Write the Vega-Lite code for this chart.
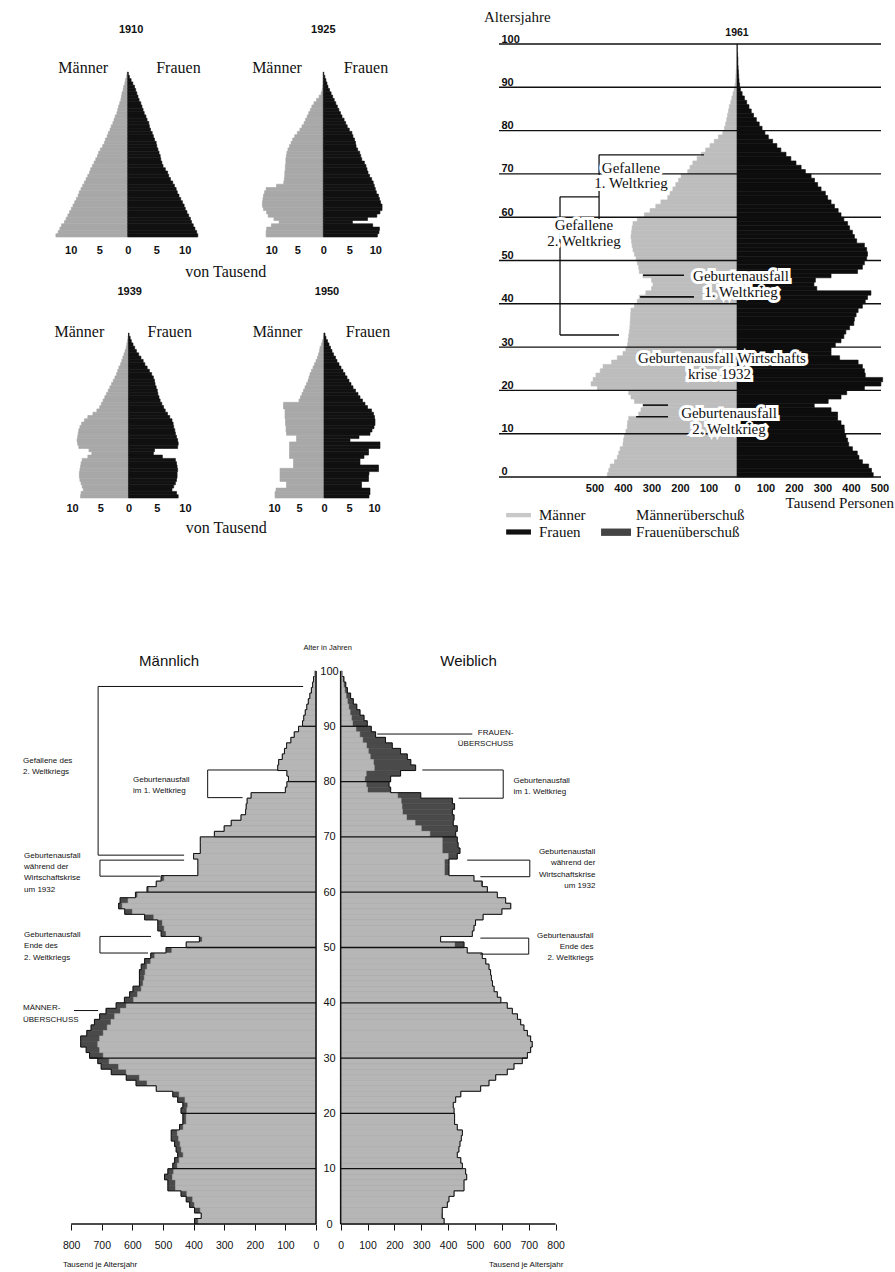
{
"$schema": "https://vega.github.io/schema/vega-lite/v6.json",
"padding": {"left": 22, "top": 10, "right": 2, "bottom": 2},
"background": "white",
"config": {"view": {"stroke": null}, "font": "Liberation Sans"},
"datasets": {
"p1910": [
{"age":0,"top":2,"m":12.6,"f":12.3},{"age":2,"top":4,"m":12.2,"f":12.1},{"age":4,"top":6,"m":11.9,"f":11.8},{"age":6,"top":8,"m":11.6,"f":11.5},{"age":8,"top":10,"m":11.1,"f":11.2},
{"age":10,"top":12,"m":10.8,"f":11.0},{"age":12,"top":14,"m":10.5,"f":10.7},{"age":14,"top":16,"m":10.2,"f":10.4},{"age":16,"top":18,"m":9.9,"f":10.1},{"age":18,"top":20,"m":9.6,"f":9.9},
{"age":20,"top":22,"m":9.3,"f":9.6},{"age":22,"top":24,"m":9.0,"f":9.3},{"age":24,"top":26,"m":8.7,"f":9.0},{"age":26,"top":28,"m":8.5,"f":8.7},{"age":28,"top":30,"m":8.2,"f":8.5},
{"age":30,"top":32,"m":7.9,"f":8.2},{"age":32,"top":34,"m":7.6,"f":7.9},{"age":34,"top":36,"m":7.3,"f":7.5},{"age":36,"top":38,"m":7.0,"f":7.2},{"age":38,"top":40,"m":6.7,"f":7.0},
{"age":40,"top":42,"m":6.5,"f":6.6},{"age":42,"top":44,"m":6.2,"f":6.2},{"age":44,"top":46,"m":5.9,"f":6.0},{"age":46,"top":48,"m":5.6,"f":5.8},{"age":48,"top":50,"m":5.3,"f":5.7},
{"age":50,"top":52,"m":5.1,"f":5.5},{"age":52,"top":54,"m":4.8,"f":5.3},{"age":54,"top":56,"m":4.4,"f":5.1},{"age":56,"top":58,"m":4.1,"f":5.0},{"age":58,"top":60,"m":3.9,"f":4.7},
{"age":60,"top":62,"m":3.6,"f":4.5},{"age":62,"top":64,"m":3.4,"f":4.3},{"age":64,"top":66,"m":3.1,"f":4.0},{"age":66,"top":68,"m":2.9,"f":3.8},{"age":68,"top":70,"m":2.6,"f":3.7},
{"age":70,"top":72,"m":2.4,"f":3.4},{"age":72,"top":74,"m":2.2,"f":3.2},{"age":74,"top":76,"m":1.9,"f":2.9},{"age":76,"top":78,"m":1.75,"f":2.7},{"age":78,"top":80,"m":1.6,"f":2.5},
{"age":80,"top":82,"m":1.4,"f":2.3},{"age":82,"top":84,"m":1.2,"f":2.0},{"age":84,"top":86,"m":1.1,"f":1.8},{"age":86,"top":88,"m":1.0,"f":1.6},{"age":88,"top":90,"m":0.8,"f":1.4},
{"age":90,"top":92,"m":0.7,"f":1.2},{"age":92,"top":94,"m":0.5,"f":0.9},{"age":94,"top":96,"m":0.4,"f":0.6},{"age":96,"top":98,"m":0.2,"f":0.3},{"age":98,"top":100,"m":0.1,"f":0.1}
],
"p1925": [
{"age":0,"top":2,"m":11.0,"f":10.4},{"age":2,"top":4,"m":11.0,"f":10.7},{"age":4,"top":6,"m":10.9,"f":10.8},{"age":6,"top":8,"m":10.0,"f":9.5},{"age":8,"top":10,"m":8.5,"f":5.6},
{"age":10,"top":12,"m":9.5,"f":8.5},{"age":12,"top":14,"m":10.6,"f":10.3},{"age":14,"top":16,"m":10.9,"f":10.9},{"age":16,"top":18,"m":11.5,"f":11.3},{"age":18,"top":20,"m":11.7,"f":11.3},
{"age":20,"top":22,"m":11.7,"f":11.0},{"age":22,"top":24,"m":11.6,"f":10.8},{"age":24,"top":26,"m":11.5,"f":10.6},{"age":26,"top":28,"m":11.3,"f":10.2},{"age":28,"top":30,"m":11.0,"f":10.0},
{"age":30,"top":32,"m":9.0,"f":9.8},{"age":32,"top":34,"m":7.6,"f":9.6},{"age":34,"top":36,"m":7.5,"f":9.3},{"age":36,"top":38,"m":7.4,"f":8.9},{"age":38,"top":40,"m":7.4,"f":8.6},
{"age":40,"top":42,"m":7.3,"f":8.4},{"age":42,"top":44,"m":7.3,"f":8.2},{"age":44,"top":46,"m":7.2,"f":7.9},{"age":46,"top":48,"m":7.2,"f":7.4},{"age":48,"top":50,"m":7.1,"f":7.2},
{"age":50,"top":52,"m":7.0,"f":7.0},{"age":52,"top":54,"m":6.8,"f":6.6},{"age":54,"top":56,"m":6.5,"f":6.3},{"age":56,"top":58,"m":6.2,"f":6.2},{"age":58,"top":60,"m":5.9,"f":6.0},
{"age":60,"top":62,"m":5.5,"f":5.7},{"age":62,"top":64,"m":5.0,"f":5.5},{"age":64,"top":66,"m":4.5,"f":5.0},{"age":66,"top":68,"m":4.1,"f":4.6},{"age":68,"top":70,"m":3.7,"f":4.3},
{"age":70,"top":72,"m":3.4,"f":4.0},{"age":72,"top":74,"m":3.1,"f":3.6},{"age":74,"top":76,"m":2.8,"f":3.3},{"age":76,"top":78,"m":2.5,"f":3.0},{"age":78,"top":80,"m":2.2,"f":2.7},
{"age":80,"top":82,"m":1.8,"f":2.4},{"age":82,"top":84,"m":1.3,"f":2.1},{"age":84,"top":86,"m":0.8,"f":1.8},{"age":86,"top":88,"m":0.4,"f":1.5},{"age":88,"top":90,"m":0.2,"f":1.2},
{"age":90,"top":92,"m":0.1,"f":0.9},{"age":92,"top":94,"m":0,"f":0.7},{"age":94,"top":96,"m":0,"f":0.5},{"age":96,"top":98,"m":0,"f":0.3},{"age":98,"top":100,"m":0,"f":0.1}
],
"p1939": [
{"age":0,"top":2,"m":8.5,"f":8.8},{"age":2,"top":4,"m":8.4,"f":8.5},{"age":4,"top":6,"m":8.0,"f":7.7},{"age":6,"top":8,"m":8.2,"f":8.0},{"age":8,"top":10,"m":8.4,"f":8.3},
{"age":10,"top":12,"m":8.6,"f":8.5},{"age":12,"top":14,"m":8.7,"f":8.6},{"age":14,"top":16,"m":8.7,"f":8.6},{"age":16,"top":18,"m":8.6,"f":8.7},{"age":18,"top":20,"m":8.5,"f":8.6},
{"age":20,"top":22,"m":8.4,"f":8.5},{"age":22,"top":24,"m":8.2,"f":8.3},{"age":24,"top":26,"m":7.2,"f":6.0},{"age":26,"top":28,"m":6.5,"f":4.4},{"age":28,"top":30,"m":7.0,"f":4.6},
{"age":30,"top":32,"m":8.8,"f":8.7},{"age":32,"top":34,"m":9.0,"f":8.8},{"age":34,"top":36,"m":9.1,"f":8.7},{"age":36,"top":38,"m":9.0,"f":8.5},{"age":38,"top":40,"m":8.9,"f":8.3},
{"age":40,"top":42,"m":8.8,"f":8.2},{"age":42,"top":44,"m":8.6,"f":8.0},{"age":44,"top":46,"m":8.3,"f":7.9},{"age":46,"top":48,"m":7.8,"f":7.7},{"age":48,"top":50,"m":7.2,"f":7.3},
{"age":50,"top":52,"m":6.3,"f":6.9},{"age":52,"top":54,"m":5.6,"f":6.5},{"age":54,"top":56,"m":5.1,"f":6.2},{"age":56,"top":58,"m":4.8,"f":5.9},{"age":58,"top":60,"m":4.5,"f":5.6},
{"age":60,"top":62,"m":4.2,"f":5.4},{"age":62,"top":64,"m":3.9,"f":5.2},{"age":64,"top":66,"m":3.6,"f":5.1},{"age":66,"top":68,"m":3.3,"f":4.9},{"age":68,"top":70,"m":3.0,"f":4.7},
{"age":70,"top":72,"m":2.7,"f":4.6},{"age":72,"top":74,"m":2.4,"f":4.4},{"age":74,"top":76,"m":2.1,"f":4.1},{"age":76,"top":78,"m":1.9,"f":3.7},{"age":78,"top":80,"m":1.7,"f":3.3},
{"age":80,"top":82,"m":1.4,"f":2.9},{"age":82,"top":84,"m":1.2,"f":2.6},{"age":84,"top":86,"m":1.0,"f":2.2},{"age":86,"top":88,"m":0.8,"f":1.8},{"age":88,"top":90,"m":0.6,"f":1.4},
{"age":90,"top":92,"m":0.4,"f":1.1},{"age":92,"top":94,"m":0.3,"f":0.8},{"age":94,"top":96,"m":0.2,"f":0.5},{"age":96,"top":98,"m":0.1,"f":0.3},{"age":98,"top":100,"m":0,"f":0.1}
],
"p1950": [
{"age":0,"top":2,"m":9.8,"f":9.0},{"age":2,"top":4,"m":9.8,"f":9.2},{"age":4,"top":6,"m":9.6,"f":9.2},{"age":6,"top":8,"m":7.5,"f":7.5},{"age":8,"top":10,"m":7.5,"f":7.5},
{"age":10,"top":12,"m":8.8,"f":8.9},{"age":12,"top":14,"m":8.8,"f":8.9},{"age":14,"top":16,"m":8.8,"f":9.0},{"age":16,"top":18,"m":8.8,"f":10.9},{"age":18,"top":20,"m":6.1,"f":10.9},
{"age":20,"top":22,"m":6.1,"f":7.2},{"age":22,"top":24,"m":6.1,"f":7.2},{"age":24,"top":26,"m":6.9,"f":8.0},{"age":26,"top":28,"m":6.9,"f":8.9},{"age":28,"top":30,"m":6.9,"f":8.9},
{"age":30,"top":32,"m":6.9,"f":11.2},{"age":32,"top":34,"m":6.9,"f":11.2},{"age":34,"top":36,"m":5.5,"f":5.2},{"age":36,"top":38,"m":5.5,"f":7.0},{"age":38,"top":40,"m":7.5,"f":9.2},
{"age":40,"top":42,"m":7.6,"f":9.6},{"age":42,"top":44,"m":7.6,"f":10.0},{"age":44,"top":46,"m":7.7,"f":10.2},{"age":46,"top":48,"m":7.7,"f":10.2},{"age":48,"top":50,"m":7.8,"f":10.1},
{"age":50,"top":52,"m":7.8,"f":9.9},{"age":52,"top":54,"m":7.8,"f":9.5},{"age":54,"top":56,"m":8.1,"f":8.7},{"age":56,"top":58,"m":8.1,"f":8.2},{"age":58,"top":60,"m":5.0,"f":7.7},
{"age":60,"top":62,"m":4.7,"f":7.2},{"age":62,"top":64,"m":4.4,"f":6.8},{"age":64,"top":66,"m":4.1,"f":6.3},{"age":66,"top":68,"m":3.8,"f":5.8},{"age":68,"top":70,"m":3.5,"f":5.4},
{"age":70,"top":72,"m":3.2,"f":5.0},{"age":72,"top":74,"m":3.0,"f":4.6},{"age":74,"top":76,"m":2.8,"f":4.2},{"age":76,"top":78,"m":2.5,"f":3.8},{"age":78,"top":80,"m":2.2,"f":3.4},
{"age":80,"top":82,"m":1.9,"f":3.0},{"age":82,"top":84,"m":1.6,"f":2.6},{"age":84,"top":86,"m":1.3,"f":2.3},{"age":86,"top":88,"m":1.1,"f":1.9},{"age":88,"top":90,"m":0.9,"f":1.6},
{"age":90,"top":92,"m":0.8,"f":1.3},{"age":92,"top":94,"m":0.5,"f":1.0},{"age":94,"top":96,"m":0.3,"f":0.7},{"age":96,"top":98,"m":0.1,"f":0.4},{"age":98,"top":100,"m":0,"f":0.2}
],
"p1961": [
{"age":0,"top":1,"m":455,"f":478},{"age":1,"top":2,"m":450,"f":472},{"age":2,"top":3,"m":445,"f":462},{"age":3,"top":4,"m":430,"f":440},{"age":4,"top":5,"m":420,"f":428},
{"age":5,"top":6,"m":415,"f":422},{"age":6,"top":7,"m":410,"f":405},{"age":7,"top":8,"m":400,"f":392},{"age":8,"top":9,"m":398,"f":388},{"age":9,"top":10,"m":395,"f":382},
{"age":10,"top":11,"m":390,"f":377},{"age":11,"top":12,"m":385,"f":376},{"age":12,"top":13,"m":384,"f":365},{"age":13,"top":14,"m":380,"f":353},{"age":14,"top":15,"m":345,"f":353},
{"age":15,"top":16,"m":337,"f":330},{"age":16,"top":17,"m":330,"f":271},{"age":17,"top":18,"m":360,"f":320},{"age":18,"top":19,"m":372,"f":365},{"age":19,"top":20,"m":380,"f":385},
{"age":20,"top":21,"m":490,"f":447},{"age":21,"top":22,"m":512,"f":505},{"age":22,"top":23,"m":505,"f":511},{"age":23,"top":24,"m":495,"f":450},{"age":24,"top":25,"m":480,"f":447},
{"age":25,"top":26,"m":470,"f":440},{"age":26,"top":27,"m":440,"f":425},{"age":27,"top":28,"m":420,"f":360},{"age":28,"top":29,"m":400,"f":330},{"age":29,"top":30,"m":390,"f":330},
{"age":30,"top":31,"m":384,"f":345},{"age":31,"top":32,"m":382,"f":365},{"age":32,"top":33,"m":380,"f":375},{"age":33,"top":34,"m":378,"f":382},{"age":34,"top":35,"m":376,"f":395},
{"age":35,"top":36,"m":375,"f":410},{"age":36,"top":37,"m":374,"f":412},{"age":37,"top":38,"m":373,"f":418},{"age":38,"top":39,"m":372,"f":425},{"age":39,"top":40,"m":360,"f":440},
{"age":40,"top":41,"m":350,"f":450},{"age":41,"top":42,"m":343,"f":458},{"age":42,"top":43,"m":320,"f":470},{"age":43,"top":44,"m":300,"f":280},{"age":44,"top":45,"m":295,"f":270},
{"age":45,"top":46,"m":300,"f":275},{"age":46,"top":47,"m":330,"f":330},{"age":47,"top":48,"m":343,"f":423},{"age":48,"top":49,"m":345,"f":440},{"age":49,"top":50,"m":350,"f":447},
{"age":50,"top":51,"m":354,"f":455},{"age":51,"top":52,"m":360,"f":458},{"age":52,"top":53,"m":365,"f":455},{"age":53,"top":54,"m":368,"f":447},{"age":54,"top":55,"m":370,"f":420},
{"age":55,"top":56,"m":372,"f":412},{"age":56,"top":57,"m":370,"f":405},{"age":57,"top":58,"m":368,"f":395},{"age":58,"top":59,"m":365,"f":388},{"age":59,"top":60,"m":350,"f":375},
{"age":60,"top":61,"m":325,"f":365},{"age":61,"top":62,"m":305,"f":355},{"age":62,"top":63,"m":285,"f":342},{"age":63,"top":64,"m":267,"f":330},{"age":64,"top":65,"m":243,"f":318},
{"age":65,"top":66,"m":235,"f":310},{"age":66,"top":67,"m":225,"f":295},{"age":67,"top":68,"m":215,"f":283},{"age":68,"top":69,"m":205,"f":272},{"age":69,"top":70,"m":196,"f":260},
{"age":70,"top":71,"m":173,"f":240},{"age":71,"top":72,"m":165,"f":225},{"age":72,"top":73,"m":155,"f":207},{"age":73,"top":74,"m":140,"f":189},{"age":74,"top":75,"m":125,"f":172},
{"age":75,"top":76,"m":110,"f":154},{"age":76,"top":77,"m":95,"f":140},{"age":77,"top":78,"m":80,"f":125},{"age":78,"top":79,"m":65,"f":110},{"age":79,"top":80,"m":50,"f":98},
{"age":80,"top":81,"m":44,"f":88},{"age":81,"top":82,"m":40,"f":78},{"age":82,"top":83,"m":36,"f":68},{"age":83,"top":84,"m":33,"f":58},{"age":84,"top":85,"m":30,"f":50},
{"age":85,"top":86,"m":27,"f":42},{"age":86,"top":87,"m":22,"f":34},{"age":87,"top":88,"m":18,"f":26},{"age":88,"top":89,"m":14,"f":18},{"age":89,"top":90,"m":10,"f":12},
{"age":90,"top":91,"m":7,"f":9},{"age":91,"top":92,"m":5,"f":7},{"age":92,"top":93,"m":4,"f":6},{"age":93,"top":94,"m":3,"f":5},{"age":94,"top":95,"m":2,"f":4},
{"age":95,"top":96,"m":2,"f":3},{"age":96,"top":97,"m":1,"f":3},{"age":97,"top":98,"m":1,"f":2},{"age":98,"top":99,"m":0,"f":1},{"age":99,"top":100,"m":0,"f":1}
],
"bot": [
{"age":0,"top":1,"m":397,"f":385},{"age":1,"top":2,"m":375,"f":378},{"age":2,"top":3,"m":397,"f":378},{"age":3,"top":4,"m":413,"f":397},{"age":4,"top":5,"m":424,"f":403},
{"age":5,"top":6,"m":441,"f":422},{"age":6,"top":7,"m":484,"f":459},{"age":7,"top":8,"m":484,"f":459},{"age":8,"top":9,"m":495,"f":469},{"age":9,"top":10,"m":484,"f":465},
{"age":10,"top":11,"m":468,"f":453},{"age":11,"top":12,"m":462,"f":447},{"age":12,"top":13,"m":452,"f":434},{"age":13,"top":14,"m":457,"f":440},{"age":14,"top":15,"m":462,"f":444},
{"age":15,"top":16,"m":473,"f":449},{"age":16,"top":17,"m":473,"f":453},{"age":17,"top":18,"m":446,"f":434},{"age":18,"top":19,"m":435,"f":424},{"age":19,"top":20,"m":435,"f":424},
{"age":20,"top":21,"m":441,"f":422},{"age":21,"top":22,"m":435,"f":419},{"age":22,"top":23,"m":452,"f":428},{"age":23,"top":24,"m":468,"f":447},{"age":24,"top":25,"m":522,"f":521},
{"age":25,"top":26,"m":588,"f":552},{"age":26,"top":27,"m":620,"f":577},{"age":27,"top":28,"m":669,"f":620},{"age":28,"top":29,"m":702,"f":645},{"age":29,"top":30,"m":713,"f":676},
{"age":30,"top":31,"m":740,"f":695},{"age":31,"top":32,"m":751,"f":707},{"age":32,"top":33,"m":769,"f":713},{"age":33,"top":34,"m":769,"f":707},{"age":34,"top":35,"m":749,"f":695},
{"age":35,"top":36,"m":735,"f":682},{"age":36,"top":37,"m":724,"f":670},{"age":37,"top":38,"m":707,"f":658},{"age":38,"top":39,"m":686,"f":639},{"age":39,"top":40,"m":653,"f":620},
{"age":40,"top":41,"m":626,"f":596},{"age":41,"top":42,"m":609,"f":583},{"age":42,"top":43,"m":598,"f":571},{"age":43,"top":44,"m":577,"f":565},{"age":44,"top":45,"m":577,"f":561},
{"age":45,"top":46,"m":577,"f":558},{"age":46,"top":47,"m":571,"f":552},{"age":47,"top":48,"m":560,"f":540},{"age":48,"top":49,"m":540,"f":527},{"age":49,"top":50,"m":490,"f":471},
{"age":50,"top":51,"m":424,"f":459},{"age":51,"top":52,"m":381,"f":372},{"age":52,"top":53,"m":506,"f":490},{"age":53,"top":54,"m":517,"f":496},{"age":54,"top":55,"m":517,"f":502},
{"age":55,"top":56,"m":560,"f":530},{"age":56,"top":57,"m":625,"f":600},{"age":57,"top":58,"m":645,"f":633},{"age":58,"top":59,"m":640,"f":614},{"age":59,"top":60,"m":590,"f":583},
{"age":60,"top":61,"m":552,"f":546},{"age":61,"top":62,"m":522,"f":527},{"age":62,"top":63,"m":506,"f":496},{"age":63,"top":64,"m":386,"f":403},{"age":64,"top":65,"m":386,"f":403},
{"age":65,"top":66,"m":386,"f":403},{"age":66,"top":67,"m":400,"f":434},{"age":67,"top":68,"m":378,"f":444},{"age":68,"top":69,"m":378,"f":437},{"age":69,"top":70,"m":378,"f":434},
{"age":70,"top":71,"m":332,"f":428},{"age":71,"top":72,"m":300,"f":434},{"age":72,"top":73,"m":277,"f":419},{"age":73,"top":74,"m":245,"f":422},{"age":74,"top":75,"m":230,"f":416},
{"age":75,"top":76,"m":228,"f":424},{"age":76,"top":77,"m":225,"f":416},{"age":77,"top":78,"m":212,"f":298},{"age":78,"top":79,"m":100,"f":186},{"age":79,"top":80,"m":95,"f":180},
{"age":80,"top":81,"m":90,"f":186},{"age":81,"top":82,"m":95,"f":223},{"age":82,"top":83,"m":125,"f":279},{"age":83,"top":84,"m":122,"f":261},{"age":84,"top":85,"m":110,"f":248},
{"age":85,"top":86,"m":103,"f":223},{"age":86,"top":87,"m":96,"f":192},{"age":87,"top":88,"m":82,"f":167},{"age":88,"top":89,"m":71,"f":130},{"age":89,"top":90,"m":57,"f":114},
{"age":90,"top":91,"m":44,"f":99},{"age":91,"top":92,"m":40,"f":87},{"age":92,"top":93,"m":35,"f":72},{"age":93,"top":94,"m":30,"f":60},{"age":94,"top":95,"m":25,"f":47},
{"age":95,"top":96,"m":20,"f":37},{"age":96,"top":97,"m":15,"f":25},{"age":97,"top":98,"m":11,"f":19},{"age":98,"top":99,"m":8,"f":12},{"age":99,"top":100,"m":5,"f":6}
]
},
"vconcat": [
{"width": 826, "height": 454, "resolve": {"scale": {"x": "independent", "y": "independent"}}, "layer": [
{"resolve": {"scale": {"x": "independent"}}, "layer": [
{"layer": [
{"data": {"name": "p1910"}, "mark": {"type": "rect", "fill": "#a8a8a8", "stroke": "#a8a8a8", "strokeWidth": 0.6}, "encoding": {
"x": {"field": "m", "type": "quantitative", "scale": {"domain": [-132.16, 12.754], "reverse": true, "nice": false, "zero": false}, "axis": {"orient": "bottom", "offset": -261, "values": [0, 5, 10], "title": null, "ticks": false, "domain": false, "grid": false, "labelFont": "Liberation Sans", "labelFontWeight": "bold", "labelFontSize": 11, "labelPadding": 7, "labelFlush": false, "labelOverlap": false, "labelColor": "#111"}},
"x2": {"datum": 0},
"y": {"field": "age", "type": "quantitative", "scale": {"domain": [-158.18, 116.97], "nice": false, "zero": false}, "axis": null},
"y2": {"field": "top"}}},
{"data": {"values": [{}]}, "mark": {"type": "text", "text": "Männer", "font": "Liberation Serif", "fontSize": 16, "color": "#111"}, "encoding": {"x": {"datum": 7.8}, "y": {"datum": 102.4, "axis": null}}}
]},
{"layer": [
{"data": {"name": "p1910"}, "mark": {"type": "rect", "fill": "#111", "stroke": "#111", "strokeWidth": 0.6}, "encoding": {
"x": {"field": "f", "type": "quantitative", "scale": {"domain": [-12.754, 132.16], "nice": false, "zero": false}, "axis": {"orient": "bottom", "offset": -261, "values": [5, 10], "title": null, "ticks": false, "domain": false, "grid": false, "labelFont": "Liberation Sans", "labelFontWeight": "bold", "labelFontSize": 11, "labelPadding": 7, "labelFlush": false, "labelOverlap": false, "labelColor": "#111"}},
"x2": {"datum": 0},
"y": {"field": "age", "type": "quantitative", "axis": null},
"y2": {"field": "top"}}},
{"data": {"values": [{}]}, "mark": {"type": "text", "text": "Frauen", "font": "Liberation Serif", "fontSize": 16, "color": "#111"}, "encoding": {"x": {"datum": 8.9}, "y": {"datum": 102.4, "axis": null}}},
{"data": {"values": [{}]}, "mark": {"type": "text", "text": "1910", "font": "Liberation Sans", "fontWeight": "bold", "fontSize": 11, "color": "#111"}, "encoding": {"x": {"datum": 0.6}, "y": {"datum": 125.5, "axis": null}}},
{"data": {"values": [{}]}, "mark": {"type": "text", "text": "von Tausend", "font": "Liberation Serif", "fontSize": 16, "color": "#111"}, "encoding": {"x": {"datum": 17.2}, "y": {"datum": -21.2, "axis": null}}}
]}
]},
{"resolve": {"scale": {"x": "independent"}}, "layer": [
{"layer": [
{"data": {"name": "p1925"}, "mark": {"type": "rect", "fill": "#a8a8a8", "stroke": "#a8a8a8", "strokeWidth": 0.6}, "encoding": {
"x": {"field": "m", "type": "quantitative", "scale": {"domain": [-107.25, 51.596], "reverse": true, "nice": false, "zero": false}, "axis": {"orient": "bottom", "offset": -261, "values": [0, 5, 10], "title": null, "ticks": false, "domain": false, "grid": false, "labelFont": "Liberation Sans", "labelFontWeight": "bold", "labelFontSize": 11, "labelPadding": 7, "labelFlush": false, "labelOverlap": false, "labelColor": "#111"}},
"x2": {"datum": 0},
"y": {"field": "age", "type": "quantitative", "scale": {"domain": [-158.18, 116.97], "nice": false, "zero": false}, "axis": null},
"y2": {"field": "top"}}},
{"data": {"values": [{}]}, "mark": {"type": "text", "text": "Männer", "font": "Liberation Serif", "fontSize": 16, "color": "#111"}, "encoding": {"x": {"datum": 8.9}, "y": {"datum": 102.4, "axis": null}}}
]},
{"layer": [
{"data": {"name": "p1925"}, "mark": {"type": "rect", "fill": "#111", "stroke": "#111", "strokeWidth": 0.6}, "encoding": {
"x": {"field": "f", "type": "quantitative", "scale": {"domain": [-51.596, 107.25], "nice": false, "zero": false}, "axis": {"orient": "bottom", "offset": -261, "values": [5, 10], "title": null, "ticks": false, "domain": false, "grid": false, "labelFont": "Liberation Sans", "labelFontWeight": "bold", "labelFontSize": 11, "labelPadding": 7, "labelFlush": false, "labelOverlap": false, "labelColor": "#111"}},
"x2": {"datum": 0},
"y": {"field": "age", "type": "quantitative", "axis": null},
"y2": {"field": "top"}}},
{"data": {"values": [{}]}, "mark": {"type": "text", "text": "Frauen", "font": "Liberation Serif", "fontSize": 16, "color": "#111"}, "encoding": {"x": {"datum": 8.2}, "y": {"datum": 102.4, "axis": null}}},
{"data": {"values": [{}]}, "mark": {"type": "text", "text": "1925", "font": "Liberation Sans", "fontWeight": "bold", "fontSize": 11, "color": "#111"}, "encoding": {"x": {"datum": 0}, "y": {"datum": 125.5, "axis": null}}}
]}
]},
{"resolve": {"scale": {"x": "independent"}}, "layer": [
{"layer": [
{"data": {"name": "p1939"}, "mark": {"type": "rect", "fill": "#a8a8a8", "stroke": "#a8a8a8", "strokeWidth": 0.6}, "encoding": {
"x": {"field": "m", "type": "quantitative", "scale": {"domain": [-133.19, 13.009], "reverse": true, "nice": false, "zero": false}, "axis": {"orient": "bottom", "values": [0, 5, 10], "title": null, "ticks": false, "domain": false, "grid": false, "labelFont": "Liberation Sans", "labelFontWeight": "bold", "labelFontSize": 11, "labelPadding": 4, "labelFlush": false, "labelOverlap": false, "labelColor": "#111"}},
"x2": {"datum": 0},
"y": {"field": "age", "type": "quantitative", "scale": {"domain": [0, 275.15], "nice": false, "zero": false}, "axis": null},
"y2": {"field": "top"}}},
{"data": {"values": [{}]}, "mark": {"type": "text", "text": "Männer", "font": "Liberation Serif", "fontSize": 16, "color": "#111"}, "encoding": {"x": {"datum": 8.7}, "y": {"datum": 100.8, "axis": null}}}
]},
{"layer": [
{"data": {"name": "p1939"}, "mark": {"type": "rect", "fill": "#111", "stroke": "#111", "strokeWidth": 0.6}, "encoding": {
"x": {"field": "f", "type": "quantitative", "scale": {"domain": [-13.009, 133.19], "nice": false, "zero": false}, "axis": {"orient": "bottom", "values": [5, 10], "title": null, "ticks": false, "domain": false, "grid": false, "labelFont": "Liberation Sans", "labelFontWeight": "bold", "labelFontSize": 11, "labelPadding": 4, "labelFlush": false, "labelOverlap": false, "labelColor": "#111"}},
"x2": {"datum": 0},
"y": {"field": "age", "type": "quantitative", "axis": null},
"y2": {"field": "top"}}},
{"data": {"values": [{}]}, "mark": {"type": "text", "text": "Frauen", "font": "Liberation Serif", "fontSize": 16, "color": "#111"}, "encoding": {"x": {"datum": 7.3}, "y": {"datum": 100.8, "axis": null}}},
{"data": {"values": [{}]}, "mark": {"type": "text", "text": "1939", "font": "Liberation Sans", "fontWeight": "bold", "fontSize": 11, "color": "#111"}, "encoding": {"x": {"datum": 0.2}, "y": {"datum": 124.7, "axis": null}}},
{"data": {"values": [{}]}, "mark": {"type": "text", "text": "von Tausend", "font": "Liberation Serif", "fontSize": 16, "color": "#111"}, "encoding": {"x": {"datum": 17.3}, "y": {"datum": -18.2, "axis": null}}}
]}
]},
{"resolve": {"scale": {"x": "independent"}}, "layer": [
{"layer": [
{"data": {"name": "p1950"}, "mark": {"type": "rect", "fill": "#a8a8a8", "stroke": "#a8a8a8", "strokeWidth": 0.6}, "encoding": {
"x": {"field": "m", "type": "quantitative", "scale": {"domain": [-111.4, 53.8], "reverse": true, "nice": false, "zero": false}, "axis": {"orient": "bottom", "values": [0, 5, 10], "title": null, "ticks": false, "domain": false, "grid": false, "labelFont": "Liberation Sans", "labelFontWeight": "bold", "labelFontSize": 11, "labelPadding": 4, "labelFlush": false, "labelOverlap": false, "labelColor": "#111"}},
"x2": {"datum": 0},
"y": {"field": "age", "type": "quantitative", "scale": {"domain": [0, 275.15], "nice": false, "zero": false}, "axis": null},
"y2": {"field": "top"}}},
{"data": {"values": [{}]}, "mark": {"type": "text", "text": "Männer", "font": "Liberation Serif", "fontSize": 16, "color": "#111"}, "encoding": {"x": {"datum": 9.3}, "y": {"datum": 100.8, "axis": null}}}
]},
{"layer": [
{"data": {"name": "p1950"}, "mark": {"type": "rect", "fill": "#111", "stroke": "#111", "strokeWidth": 0.6}, "encoding": {
"x": {"field": "f", "type": "quantitative", "scale": {"domain": [-53.8, 111.4], "nice": false, "zero": false}, "axis": {"orient": "bottom", "values": [5, 10], "title": null, "ticks": false, "domain": false, "grid": false, "labelFont": "Liberation Sans", "labelFontWeight": "bold", "labelFontSize": 11, "labelPadding": 4, "labelFlush": false, "labelOverlap": false, "labelColor": "#111"}},
"x2": {"datum": 0},
"y": {"field": "age", "type": "quantitative", "axis": null},
"y2": {"field": "top"}}},
{"data": {"values": [{}]}, "mark": {"type": "text", "text": "Frauen", "font": "Liberation Serif", "fontSize": 16, "color": "#111"}, "encoding": {"x": {"datum": 8.8}, "y": {"datum": 100.8, "axis": null}}},
{"data": {"values": [{}]}, "mark": {"type": "text", "text": "1950", "font": "Liberation Sans", "fontWeight": "bold", "fontSize": 11, "color": "#111"}, "encoding": {"x": {"datum": 0.6}, "y": {"datum": 124.7, "axis": null}}}
]}
]},
{"resolve": {"scale": {"x": "independent"}}, "layer": [
{"layer": [
{"data": {"name": "p1961"}, "mark": {"type": "rect", "fill": "#bdbdbd", "stroke": "#bdbdbd", "strokeWidth": 0.6}, "encoding": {
"x": {"field": "m", "type": "quantitative", "scale": {"domain": [-505.26, 2392.98], "reverse": true, "nice": false, "zero": false}, "axis": {"orient": "bottom", "offset": -21, "values": [0, 100, 200, 300, 400, 500], "title": null, "ticks": false, "domain": false, "grid": false, "labelFont": "Liberation Sans", "labelFontWeight": "bold", "labelFontSize": 11, "labelPadding": 5, "labelFlush": false, "labelOverlap": false, "labelColor": "#111"}},
"x2": {"datum": 0},
"y": {"field": "age", "type": "quantitative", "scale": {"domain": [-4.85, 100], "nice": false, "zero": false}, "axis": {"orient": "left", "offset": -444, "values": [0, 10, 20, 30, 40, 50, 60, 70, 80, 90, 100], "grid": false, "zindex": 1, "domain": false, "ticks": false, "tickSize": 0, "labelAlign": "left", "labelBaseline": "bottom", "labelPadding": -2, "labelFont": "Liberation Sans", "labelFontWeight": "bold", "labelFontSize": 11, "labelColor": "#111", "labelFlush": false, "labelOverlap": false, "title": null}},
"y2": {"field": "top"}}}
]},
{"layer": [
{"data": {"name": "p1961"}, "mark": {"type": "rect", "fill": "#0d0d0d", "stroke": "#0d0d0d", "strokeWidth": 0.6}, "encoding": {
"x": {"field": "f", "type": "quantitative", "scale": {"domain": [-2392.98, 505.26], "nice": false, "zero": false}, "axis": {"orient": "bottom", "offset": -21, "values": [100, 200, 300, 400, 500], "title": null, "ticks": false, "domain": false, "grid": false, "labelFont": "Liberation Sans", "labelFontWeight": "bold", "labelFontSize": 11, "labelPadding": 5, "labelFlush": false, "labelOverlap": false, "labelColor": "#111"}},
"x2": {"datum": 0},
"y": {"field": "age", "type": "quantitative"},
"y2": {"field": "top"}}},
{"data": {"name": "p1961"}, "transform": [{"filter": "datum.age % 10 == 0"}], "mark": {"type": "rule", "color": "#111", "strokeWidth": 1.4}, "encoding": {"x": {"datum": -835.1}, "x2": {"datum": 505.26}, "y": {"field": "age", "type": "quantitative"}}},
{"data": {"values": [{}]}, "mark": {"type": "rule", "color": "#111", "strokeWidth": 1.4}, "encoding": {"x": {"datum": -835.1}, "x2": {"datum": 505.26}, "y": {"datum": 100}}},
{"data": {"values": [{}]}, "mark": {"type": "rule", "color": "#111", "strokeWidth": 1.3}, "encoding": {"x": {"datum": -484}, "x2": {"datum": -116}, "y": {"datum": 74.4}}},
{"data": {"values": [{}]}, "mark": {"type": "rule", "color": "#111", "strokeWidth": 1.3}, "encoding": {"x": {"datum": -484}, "y": {"datum": 74.4}, "y2": {"datum": 59.6}}},
{"data": {"values": [{}]}, "mark": {"type": "rule", "color": "#111", "strokeWidth": 1.3}, "encoding": {"x": {"datum": -621}, "x2": {"datum": -484}, "y": {"datum": 64.7}}},
{"data": {"values": [{}]}, "mark": {"type": "rule", "color": "#111", "strokeWidth": 1.3}, "encoding": {"x": {"datum": -621}, "y": {"datum": 64.7}, "y2": {"datum": 32.8}}},
{"data": {"values": [{}]}, "mark": {"type": "rule", "color": "#111", "strokeWidth": 1.3}, "encoding": {"x": {"datum": -621}, "x2": {"datum": -414}, "y": {"datum": 32.8}}},
{"data": {"values": [{}]}, "mark": {"type": "rule", "color": "#111", "strokeWidth": 1.6}, "encoding": {"x": {"datum": -330}, "x2": {"datum": -186}, "y": {"datum": 46.6}}},
{"data": {"values": [{}]}, "mark": {"type": "rule", "color": "#111", "strokeWidth": 1.6}, "encoding": {"x": {"datum": -340}, "x2": {"datum": -151}, "y": {"datum": 41.6}}},
{"data": {"values": [{}]}, "mark": {"type": "rule", "color": "#111", "strokeWidth": 1.6}, "encoding": {"x": {"datum": -330}, "x2": {"datum": -242}, "y": {"datum": 16.6}}},
{"data": {"values": [{}]}, "mark": {"type": "rule", "color": "#111", "strokeWidth": 1.6}, "encoding": {"x": {"datum": -354}, "x2": {"datum": -242}, "y": {"datum": 13.9}}},
{"data": {"values": [{}]}, "mark": {"type": "text", "text": ["Gefallene", "1. Weltkrieg"], "font": "Liberation Serif", "fontSize": 15, "baseline": "top", "lineHeight": 15, "fill": "white", "stroke": "white", "strokeWidth": 6}, "encoding": {"x": {"datum": -372}, "y": {"datum": 73.0}}},
{"data": {"values": [{}]}, "mark": {"type": "text", "text": ["Gefallene", "1. Weltkrieg"], "font": "Liberation Serif", "fontSize": 15, "baseline": "top", "lineHeight": 15, "color": "#111"}, "encoding": {"x": {"datum": -372}, "y": {"datum": 73.0}}},
{"data": {"values": [{}]}, "mark": {"type": "text", "text": ["Gefallene", "2. Weltkrieg"], "font": "Liberation Serif", "fontSize": 15, "baseline": "top", "lineHeight": 16, "fill": "white", "stroke": "white", "strokeWidth": 6}, "encoding": {"x": {"datum": -537}, "y": {"datum": 59.8}}},
{"data": {"values": [{}]}, "mark": {"type": "text", "text": ["Gefallene", "2. Weltkrieg"], "font": "Liberation Serif", "fontSize": 15, "baseline": "top", "lineHeight": 16, "color": "#111"}, "encoding": {"x": {"datum": -537}, "y": {"datum": 59.8}}},
{"data": {"values": [{}]}, "mark": {"type": "text", "text": ["Geburtenausfall", "1. Weltkrieg"], "font": "Liberation Serif", "fontSize": 15, "baseline": "top", "lineHeight": 16, "fill": "white", "stroke": "white", "strokeWidth": 6}, "encoding": {"x": {"datum": 14}, "y": {"datum": 48.0}}},
{"data": {"values": [{}]}, "mark": {"type": "text", "text": ["Geburtenausfall", "1. Weltkrieg"], "font": "Liberation Serif", "fontSize": 15, "baseline": "top", "lineHeight": 16, "color": "#111"}, "encoding": {"x": {"datum": 14}, "y": {"datum": 48.0}}},
{"data": {"values": [{}]}, "mark": {"type": "text", "text": "Geburtenausfall Wirtschafts", "font": "Liberation Serif", "fontSize": 15, "align": "left", "fill": "white", "stroke": "white", "strokeWidth": 6}, "encoding": {"x": {"datum": -347}, "y": {"datum": 27.5}}},
{"data": {"values": [{}]}, "mark": {"type": "text", "text": "Geburtenausfall Wirtschafts", "font": "Liberation Serif", "fontSize": 15, "align": "left", "color": "#111"}, "encoding": {"x": {"datum": -347}, "y": {"datum": 27.5}}},
{"data": {"values": [{}]}, "mark": {"type": "text", "text": "krise 1932", "font": "Liberation Serif", "fontSize": 15, "align": "left", "fill": "white", "stroke": "white", "strokeWidth": 6}, "encoding": {"x": {"datum": -172}, "y": {"datum": 23.8}}},
{"data": {"values": [{}]}, "mark": {"type": "text", "text": "krise 1932", "font": "Liberation Serif", "fontSize": 15, "align": "left", "color": "#111"}, "encoding": {"x": {"datum": -172}, "y": {"datum": 23.8}}},
{"data": {"values": [{}]}, "mark": {"type": "text", "text": ["Geburtenausfall", "2. Weltkrieg"], "font": "Liberation Serif", "fontSize": 15, "baseline": "top", "lineHeight": 16, "fill": "white", "stroke": "white", "strokeWidth": 6}, "encoding": {"x": {"datum": -28}, "y": {"datum": 16.4}}},
{"data": {"values": [{}]}, "mark": {"type": "text", "text": ["Geburtenausfall", "2. Weltkrieg"], "font": "Liberation Serif", "fontSize": 15, "baseline": "top", "lineHeight": 16, "color": "#111"}, "encoding": {"x": {"datum": -28}, "y": {"datum": 16.4}}},
{"data": {"values": [{}]}, "mark": {"type": "text", "text": "Altersjahre", "font": "Liberation Serif", "fontSize": 15, "align": "left", "color": "#111"}, "encoding": {"x": {"datum": -888}, "y": {"datum": 106.2}}},
{"data": {"values": [{}]}, "mark": {"type": "text", "text": "1961", "font": "Liberation Sans", "fontWeight": "bold", "fontSize": 10.5, "color": "#111"}, "encoding": {"x": {"datum": 0}, "y": {"datum": 102.5}}},
{"data": {"values": [{}]}, "mark": {"type": "text", "text": "Tausend Personen", "font": "Liberation Serif", "fontSize": 15, "align": "right", "color": "#111"}, "encoding": {"x": {"datum": 551}, "y": {"datum": -6.0}}},
{"data": {"values": [{}]}, "mark": {"type": "rect", "fill": "#c8c8c8"}, "encoding": {"x": {"datum": -810}, "x2": {"datum": -723}, "y": {"datum": -8.3}, "y2": {"datum": -9.3}}},
{"data": {"values": [{}]}, "mark": {"type": "rect", "fill": "#111"}, "encoding": {"x": {"datum": -810}, "x2": {"datum": -723}, "y": {"datum": -12.1}, "y2": {"datum": -13.3}}},
{"data": {"values": [{}]}, "mark": {"type": "rect", "fill": "#444"}, "encoding": {"x": {"datum": -477}, "x2": {"datum": -372}, "y": {"datum": -11.9}, "y2": {"datum": -13.6}}},
{"data": {"values": [{}]}, "mark": {"type": "text", "text": "Männer", "font": "Liberation Serif", "fontSize": 15, "align": "left", "color": "#111"}, "encoding": {"x": {"datum": -695}, "y": {"datum": -8.8}}},
{"data": {"values": [{}]}, "mark": {"type": "text", "text": "Frauen", "font": "Liberation Serif", "fontSize": 15, "align": "left", "color": "#111"}, "encoding": {"x": {"datum": -695}, "y": {"datum": -12.7}}},
{"data": {"values": [{}]}, "mark": {"type": "text", "text": "Männerüberschuß", "font": "Liberation Serif", "fontSize": 15, "align": "left", "color": "#111"}, "encoding": {"x": {"datum": -354}, "y": {"datum": -8.8}}},
{"data": {"values": [{}]}, "mark": {"type": "text", "text": "Frauenüberschuß", "font": "Liberation Serif", "fontSize": 15, "align": "left", "color": "#111"}, "encoding": {"x": {"datum": -354}, "y": {"datum": -12.7}}}
]}
]}
]},
{"width": 501, "height": 553, "resolve": {"scale": {"x": "independent"}}, "layer": [
{"layer": [
{"data": {"name": "bot"}, "mark": {"type": "rect", "fill": "#4a4a4a", "stroke": "#4a4a4a", "strokeWidth": 0.6}, "encoding": {
"x": {"field": "m", "type": "quantitative", "scale": {"domain": [-784.3, 852.9], "reverse": true, "nice": false, "zero": false}, "axis": {"orient": "bottom", "values": [0, 100, 200, 300, 400, 500, 600, 700, 800], "title": null, "domain": false, "ticks": true, "tickSize": 6, "tickColor": "#111", "grid": false, "labelFont": "Liberation Sans", "labelFontSize": 10.5, "labelPadding": 10, "labelFlush": false, "labelOverlap": false, "labelColor": "#111"}},
"x2": {"datum": 0},
"y": {"field": "age", "type": "quantitative", "scale": {"domain": [0, 100], "nice": false}, "axis": {"orient": "left", "values": [0, 10, 20, 30, 40, 50, 60, 70, 80, 90, 100], "domain": false, "ticks": false, "tickSize": 0, "labelAlign": "center", "labelPadding": -274, "labelFont": "Liberation Sans", "labelFontSize": 11, "labelColor": "#111", "labelFlush": false, "labelOverlap": false, "grid": false, "title": null}},
"y2": {"field": "top"}}},
{"data": {"name": "bot"}, "transform": [{"fold": ["m", "f"], "as": ["sex", "v"]}, {"aggregate": [{"op": "min", "field": "v", "as": "common"}], "groupby": ["age", "top"]}], "mark": {"type": "rect", "fill": "#b6b6b6", "stroke": "#b6b6b6", "strokeWidth": 0.6}, "encoding": {
"x": {"field": "common", "type": "quantitative"}, "x2": {"datum": 0},
"y": {"field": "age", "type": "quantitative"}, "y2": {"field": "top"}}},
{"data": {"name": "bot"}, "mark": {"type": "line", "interpolate": "step-before", "color": "#111", "strokeWidth": 1}, "encoding": {
"x": {"field": "m", "type": "quantitative"}, "y": {"field": "age", "type": "quantitative"}, "order": {"field": "age", "type": "quantitative"}}},
{"data": {"name": "bot"}, "transform": [{"filter": "datum.age % 10 == 0 && datum.age > 0"}], "mark": {"type": "rule", "color": "#111", "strokeWidth": 1.3}, "encoding": {
"x": {"field": "m", "type": "quantitative"}, "x2": {"datum": 0}, "y": {"field": "age", "type": "quantitative"}}},
{"data": {"values": [{}]}, "mark": {"type": "rule", "color": "#111", "strokeWidth": 1.3}, "encoding": {"x": {"datum": 0}, "x2": {"datum": 800}, "y": {"datum": 0}}},
{"data": {"values": [{}]}, "mark": {"type": "rule", "color": "#111", "strokeWidth": 1.5}, "encoding": {"x": {"datum": 0}, "y": {"datum": 0}, "y2": {"datum": 100}}},
{"data": {"values": [{}]}, "mark": {"type": "rule", "color": "#111", "strokeWidth": 1}, "encoding": {"x": {"datum": 712}, "x2": {"datum": 42}, "y": {"datum": 97.2}}},
{"data": {"values": [{}]}, "mark": {"type": "rule", "color": "#111", "strokeWidth": 1}, "encoding": {"x": {"datum": 712}, "y": {"datum": 97.2}, "y2": {"datum": 66.7}}},
{"data": {"values": [{}]}, "mark": {"type": "rule", "color": "#111", "strokeWidth": 1}, "encoding": {"x": {"datum": 712}, "x2": {"datum": 431}, "y": {"datum": 66.7}}},
{"data": {"values": [{}]}, "mark": {"type": "rule", "color": "#111", "strokeWidth": 1}, "encoding": {"x": {"datum": 354}, "x2": {"datum": 125}, "y": {"datum": 82.1}}},
{"data": {"values": [{}]}, "mark": {"type": "rule", "color": "#111", "strokeWidth": 1}, "encoding": {"x": {"datum": 354}, "y": {"datum": 82.1}, "y2": {"datum": 77.1}}},
{"data": {"values": [{}]}, "mark": {"type": "rule", "color": "#111", "strokeWidth": 1}, "encoding": {"x": {"datum": 354}, "x2": {"datum": 240}, "y": {"datum": 77.1}}},
{"data": {"values": [{}]}, "mark": {"type": "rule", "color": "#111", "strokeWidth": 1}, "encoding": {"x": {"datum": 706}, "x2": {"datum": 431}, "y": {"datum": 65.8}}},
{"data": {"values": [{}]}, "mark": {"type": "rule", "color": "#111", "strokeWidth": 1}, "encoding": {"x": {"datum": 706}, "y": {"datum": 65.8}, "y2": {"datum": 62.9}}},
{"data": {"values": [{}]}, "mark": {"type": "rule", "color": "#111", "strokeWidth": 1}, "encoding": {"x": {"datum": 706}, "x2": {"datum": 510}, "y": {"datum": 62.9}}},
{"data": {"values": [{}]}, "mark": {"type": "rule", "color": "#111", "strokeWidth": 1}, "encoding": {"x": {"datum": 706}, "x2": {"datum": 539}, "y": {"datum": 52.0}}},
{"data": {"values": [{}]}, "mark": {"type": "rule", "color": "#111", "strokeWidth": 1}, "encoding": {"x": {"datum": 706}, "y": {"datum": 52.0}, "y2": {"datum": 49.0}}},
{"data": {"values": [{}]}, "mark": {"type": "rule", "color": "#111", "strokeWidth": 1}, "encoding": {"x": {"datum": 706}, "x2": {"datum": 549}, "y": {"datum": 49.0}}},
{"data": {"values": [{}]}, "mark": {"type": "rule", "color": "#111", "strokeWidth": 1}, "encoding": {"x": {"datum": 791}, "x2": {"datum": 712}, "y": {"datum": 38.6}}},
{"data": {"values": [{}]}, "mark": {"type": "text", "text": ["Gefallene des", "2. Weltkriegs"], "font": "Liberation Sans", "fontSize": 8, "align": "left", "baseline": "top", "lineHeight": 11, "color": "#111"}, "encoding": {"x": {"datum": 957.5}, "y": {"datum": 84.5}}},
{"data": {"values": [{}]}, "mark": {"type": "text", "text": ["Geburtenausfall", "im 1. Weltkrieg"], "font": "Liberation Sans", "fontSize": 8, "align": "left", "baseline": "top", "lineHeight": 11, "color": "#111"}, "encoding": {"x": {"datum": 598}, "y": {"datum": 81.0}}},
{"data": {"values": [{}]}, "mark": {"type": "text", "text": ["Geburtenausfall", "während der", "Wirtschaftskrise", "um 1932"], "font": "Liberation Sans", "fontSize": 8, "align": "left", "baseline": "top", "lineHeight": 11.3, "color": "#111"}, "encoding": {"x": {"datum": 954}, "y": {"datum": 67.3}}},
{"data": {"values": [{}]}, "mark": {"type": "text", "text": ["Geburtenausfall", "Ende des", "2. Weltkriegs"], "font": "Liberation Sans", "fontSize": 8, "align": "left", "baseline": "top", "lineHeight": 11.5, "color": "#111"}, "encoding": {"x": {"datum": 954}, "y": {"datum": 53.0}}},
{"data": {"values": [{}]}, "mark": {"type": "text", "text": ["MÄNNER-", "ÜBERSCHUSS"], "font": "Liberation Sans", "fontSize": 8, "align": "left", "baseline": "top", "lineHeight": 12, "color": "#111"}, "encoding": {"x": {"datum": 957.5}, "y": {"datum": 39.8}}},
{"data": {"values": [{}]}, "mark": {"type": "text", "text": "Männlich", "font": "Liberation Sans", "fontSize": 15, "color": "#111"}, "encoding": {"x": {"datum": 480}, "y": {"datum": 101.8}}},
{"data": {"values": [{}]}, "mark": {"type": "text", "text": "Tausend je Altersjahr", "font": "Liberation Sans", "fontSize": 8, "align": "left", "color": "#111"}, "encoding": {"x": {"datum": 827}, "y": {"datum": -7.4}}}
]},
{"layer": [
{"data": {"name": "bot"}, "mark": {"type": "rect", "fill": "#4a4a4a", "stroke": "#4a4a4a", "strokeWidth": 0.6}, "encoding": {
"x": {"field": "f", "type": "quantitative", "scale": {"domain": [-1063.2, 801.5], "nice": false, "zero": false}, "axis": {"orient": "bottom", "values": [0, 100, 200, 300, 400, 500, 600, 700, 800], "title": null, "domain": false, "ticks": true, "tickSize": 6, "tickColor": "#111", "grid": false, "labelFont": "Liberation Sans", "labelFontSize": 10.5, "labelPadding": 10, "labelFlush": false, "labelOverlap": false, "labelColor": "#111"}},
"x2": {"datum": 0},
"y": {"field": "age", "type": "quantitative"},
"y2": {"field": "top"}}},
{"data": {"name": "bot"}, "transform": [{"fold": ["m", "f"], "as": ["sex", "v"]}, {"aggregate": [{"op": "min", "field": "v", "as": "common"}], "groupby": ["age", "top"]}], "mark": {"type": "rect", "fill": "#b6b6b6", "stroke": "#b6b6b6", "strokeWidth": 0.6}, "encoding": {
"x": {"field": "common", "type": "quantitative"}, "x2": {"datum": 0},
"y": {"field": "age", "type": "quantitative"}, "y2": {"field": "top"}}},
{"data": {"name": "bot"}, "mark": {"type": "line", "interpolate": "step-before", "color": "#111", "strokeWidth": 1}, "encoding": {
"x": {"field": "f", "type": "quantitative"}, "y": {"field": "age", "type": "quantitative"}, "order": {"field": "age", "type": "quantitative"}}},
{"data": {"name": "bot"}, "transform": [{"filter": "datum.age % 10 == 0 && datum.age > 0"}], "mark": {"type": "rule", "color": "#111", "strokeWidth": 1.3}, "encoding": {
"x": {"field": "f", "type": "quantitative"}, "x2": {"datum": 0}, "y": {"field": "age", "type": "quantitative"}}},
{"data": {"values": [{}]}, "mark": {"type": "rule", "color": "#111", "strokeWidth": 1.3}, "encoding": {"x": {"datum": 0}, "x2": {"datum": 800}, "y": {"datum": 0}}},
{"data": {"values": [{}]}, "mark": {"type": "rule", "color": "#111", "strokeWidth": 1.5}, "encoding": {"x": {"datum": 0}, "y": {"datum": 0}, "y2": {"datum": 100}}},
{"data": {"values": [{}]}, "mark": {"type": "rule", "color": "#111", "strokeWidth": 1}, "encoding": {"x": {"datum": 136}, "x2": {"datum": 490}, "y": {"datum": 88.6}}},
{"data": {"values": [{}]}, "mark": {"type": "rule", "color": "#111", "strokeWidth": 1}, "encoding": {"x": {"datum": 304}, "x2": {"datum": 605}, "y": {"datum": 82.1}}},
{"data": {"values": [{}]}, "mark": {"type": "rule", "color": "#111", "strokeWidth": 1}, "encoding": {"x": {"datum": 605}, "y": {"datum": 82.1}, "y2": {"datum": 77.0}}},
{"data": {"values": [{}]}, "mark": {"type": "rule", "color": "#111", "strokeWidth": 1}, "encoding": {"x": {"datum": 439}, "x2": {"datum": 605}, "y": {"datum": 77.0}}},
{"data": {"values": [{}]}, "mark": {"type": "rule", "color": "#111", "strokeWidth": 1}, "encoding": {"x": {"datum": 471}, "x2": {"datum": 704}, "y": {"datum": 65.8}}},
{"data": {"values": [{}]}, "mark": {"type": "rule", "color": "#111", "strokeWidth": 1}, "encoding": {"x": {"datum": 704}, "y": {"datum": 65.8}, "y2": {"datum": 62.8}}},
{"data": {"values": [{}]}, "mark": {"type": "rule", "color": "#111", "strokeWidth": 1}, "encoding": {"x": {"datum": 520}, "x2": {"datum": 704}, "y": {"datum": 62.8}}},
{"data": {"values": [{}]}, "mark": {"type": "rule", "color": "#111", "strokeWidth": 1}, "encoding": {"x": {"datum": 520}, "x2": {"datum": 700}, "y": {"datum": 51.7}}},
{"data": {"values": [{}]}, "mark": {"type": "rule", "color": "#111", "strokeWidth": 1}, "encoding": {"x": {"datum": 700}, "y": {"datum": 51.7}, "y2": {"datum": 48.8}}},
{"data": {"values": [{}]}, "mark": {"type": "rule", "color": "#111", "strokeWidth": 1}, "encoding": {"x": {"datum": 520}, "x2": {"datum": 700}, "y": {"datum": 48.8}}},
{"data": {"values": [{}]}, "mark": {"type": "text", "text": ["FRAUEN-", "ÜBERSCHUSS"], "font": "Liberation Sans", "fontSize": 8, "align": "right", "baseline": "top", "lineHeight": 11, "color": "#111"}, "encoding": {"x": {"datum": 643}, "y": {"datum": 89.5}}},
{"data": {"values": [{}]}, "mark": {"type": "text", "text": ["Geburtenausfall", "im 1. Weltkrieg"], "font": "Liberation Sans", "fontSize": 8, "align": "left", "baseline": "top", "lineHeight": 11, "color": "#111"}, "encoding": {"x": {"datum": 643}, "y": {"datum": 80.8}}},
{"data": {"values": [{}]}, "mark": {"type": "text", "text": ["Geburtenausfall", "während der", "Wirtschaftskrise", "um 1932"], "font": "Liberation Sans", "fontSize": 8, "align": "right", "baseline": "top", "lineHeight": 11.5, "color": "#111"}, "encoding": {"x": {"datum": 948}, "y": {"datum": 68.0}}},
{"data": {"values": [{}]}, "mark": {"type": "text", "text": ["Geburtenausfall", "Ende des", "2. Weltkriegs"], "font": "Liberation Sans", "fontSize": 8, "align": "right", "baseline": "top", "lineHeight": 11, "color": "#111"}, "encoding": {"x": {"datum": 941}, "y": {"datum": 52.8}}},
{"data": {"values": [{}]}, "mark": {"type": "text", "text": "Weiblich", "font": "Liberation Sans", "fontSize": 15, "color": "#111"}, "encoding": {"x": {"datum": 476}, "y": {"datum": 101.8}}},
{"data": {"values": [{}]}, "mark": {"type": "text", "text": "Alter in Jahren", "font": "Liberation Sans", "fontSize": 7.5, "color": "#111"}, "encoding": {"x": {"datum": -48}, "y": {"datum": 104.2}}},
{"data": {"values": [{}]}, "mark": {"type": "text", "text": "Tausend je Altersjahr", "font": "Liberation Sans", "fontSize": 8, "align": "right", "color": "#111"}, "encoding": {"x": {"datum": 829}, "y": {"datum": -7.4}}}
]}
]}
],
"spacing": 173,
"bounds": "flush"
}
